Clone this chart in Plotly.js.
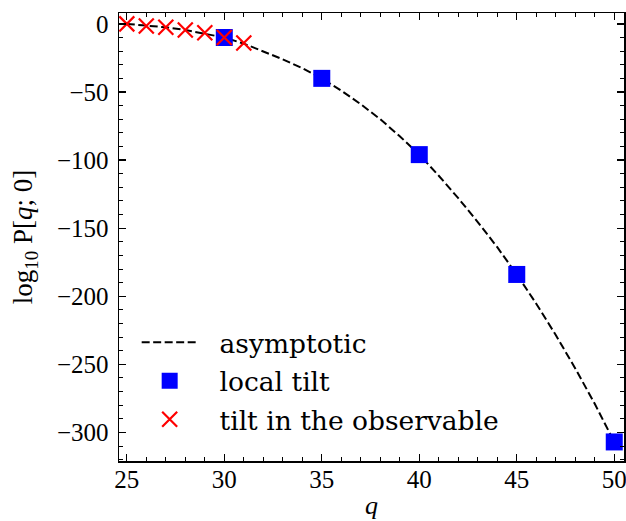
<!DOCTYPE html>
<html><head><meta charset="utf-8">
<script src="https://cdn.plot.ly/plotly-3.0.1.min.js"></script>
<style>html,body{margin:0;padding:0;background:#fff}#chart{width:626px;height:521px}</style>
</head><body><div id="chart"></div>
<script>
// asymptotic curve
const asymQ = [25,26,27,28,29,30,31,32,33,34,35,36,37,38,39,40,41,42,43,44,45,46,47,48,49,50];
const asymLogP = [0,-1,-2.5,-4.5,-7,-10,-14.5,-20,-26,-32.5,-40,-49,-59,-70,-82.5,-96,-111.5,-128,-145.5,-164,-184,-205.5,-228.5,-253,-279,-307];
// local tilt
const localQ = [30,35,40,45,50];
const localLogP = [-10,-40,-96,-184,-307];
// tilt in the observable
const obsQ = [25,26,27,28,29,30,31];
const obsLogP = [0,-1.5,-2.5,-4.5,-6.5,-10,-14];
// tick labels
const xTicks = [25,30,35,40,45,50];
const yTicks = [0,-50,-100,-150,-200,-250,-300];

const serif = "DejaVu Serif";
const cm = "Liberation Serif";
const tickFont = {family:cm, size:25, color:"#000"};

const traces = [
 {x:asymQ, y:asymLogP, mode:"lines", name:"\u00a0\u00a0asymptotic", legendgroup:"a",
  line:{color:"#000", width:2, dash:"8px,3.5px"}},
 {x:localQ, y:localLogP, mode:"markers", name:"\u00a0\u00a0local tilt", legendgroup:"b",
  marker:{symbol:"square", size:17, color:"#0000ff", line:{width:0}}},
 {x:obsQ, y:obsLogP, mode:"markers", name:"\u00a0\u00a0tilt in the observable", legendgroup:"c",
  marker:{symbol:"x-thin", size:15, color:"#ff0000", line:{color:"#ff0000", width:2.2}}}
];

const axisCommon = {
  showgrid:false, zeroline:false, showline:true, linecolor:"#000", linewidth:1.5,
  mirror:"allticks", ticks:"inside", ticklen:7, tickwidth:1.3, tickcolor:"#000",
  tickfont:tickFont, ticklabeloverflow:"allow"
};

const layout = {
  width:626, height:521,
  margin:{l:119, r:2, t:13, b:60},
  paper_bgcolor:"#fff", plot_bgcolor:"#fff",
  showlegend:true,
  legend:{x:0.035, y:0.318, xanchor:"left", yanchor:"top", bgcolor:"rgba(0,0,0,0)",
          font:{family:serif, size:26.5, color:"#000"}, tracegroupgap:1, itemwidth:56},
  xaxis:Object.assign({}, axisCommon, {
    range:[24.6,50.5], tickvals:xTicks, ticklabelstandoff:-5,
    minor:{ticks:"inside", dtick:1, tick0:25, ticklen:4, tickwidth:1, tickcolor:"#000"},
    title:{text:"<i>q</i>", font:{family:cm, size:26, color:"#000"}, standoff:4}
  }),
  yaxis:Object.assign({}, axisCommon, {
    range:[-321,8], tickvals:yTicks, ticklabelstandoff:4,
    minor:{ticks:"inside", dtick:10, tick0:0, ticklen:4, tickwidth:1, tickcolor:"#000"},
    title:{text:"log<sub>10</sub> P[<i>q</i>; 0]", font:{family:cm, size:27, color:"#000"}, standoff:16}
  })
};

Plotly.newPlot("chart", traces, layout, {staticPlot:true, displayModeBar:false});
</script></body></html>
